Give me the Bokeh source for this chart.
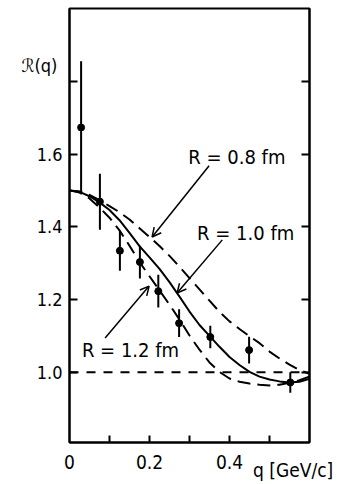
from bokeh.plotting import figure
from bokeh.models import Range1d, LinearAxis, FixedTicker, Span, Label, Arrow, OpenHead
from bokeh.embed import file_html
from bokeh.resources import INLINE

# ---- data ----
q_data = [0.029, 0.076, 0.126, 0.176, 0.222, 0.274, 0.352, 0.449, 0.552]
r_data = [1.673, 1.469, 1.334, 1.303, 1.223, 1.135, 1.097, 1.061, 0.972]
r_err = [0.182, 0.077, 0.055, 0.045, 0.045, 0.038, 0.031, 0.037, 0.028]

q_curve = [0.0, 0.025, 0.05, 0.075, 0.1, 0.125, 0.15, 0.175, 0.2, 0.225, 0.25, 0.275, 0.3,
           0.325, 0.35, 0.375, 0.4, 0.425, 0.45, 0.475, 0.5, 0.525, 0.55, 0.575, 0.6]
r_08 = [1.500, 1.497, 1.488, 1.473, 1.457, 1.440, 1.420, 1.396, 1.372, 1.347, 1.320, 1.290, 1.259,
        1.228, 1.197, 1.166, 1.140, 1.119, 1.099, 1.080, 1.057, 1.038, 1.021, 1.006, 0.996]
r_10 = [1.500, 1.496, 1.484, 1.467, 1.446, 1.418, 1.383, 1.347, 1.316, 1.284, 1.248, 1.208, 1.167,
        1.130, 1.100, 1.070, 1.042, 1.020, 1.001, 0.988, 0.980, 0.975, 0.972, 0.974, 0.982]
r_12 = [1.500, 1.494, 1.478, 1.453, 1.425, 1.390, 1.348, 1.303, 1.264, 1.225, 1.186, 1.145, 1.101,
        1.062, 1.027, 1.001, 0.983, 0.974, 0.969, 0.966, 0.964, 0.966, 0.971, 0.978, 0.988]

x_label_ticks = [0.0, 0.2, 0.4]
x_tick_labels = ["0", "0.2", "0.4"]
x_tick_marks = [0.1, 0.2, 0.3, 0.4, 0.5]
y_label_ticks = [1.0, 1.2, 1.4, 1.6]
y_tick_labels = ["1.0", "1.2", "1.4", "1.6"]
y_tick_marks = [1.0, 1.2, 1.4, 1.6, 1.8]
x_title = "q [GeV/c]"
y_title = "ℛ(q)"
curve_labels = ["R = 0.8 fm", "R = 1.0 fm", "R = 1.2 fm"]

FONT = "DejaVu Sans Condensed"

p = figure(width=337, height=484, output_backend="svg", toolbar_location=None,
           x_range=Range1d(0, 0.6), y_range=Range1d(0.807, 2.0),
           min_border_left=69, min_border_right=28, min_border_top=8, min_border_bottom=42)
p.grid.visible = False
p.outline_line_color = "black"
p.outline_line_width = 2
p.background_fill_color = "white"
p.border_fill_color = "white"

# bottom axis: tick marks as minor ticks, labels (incl. the axis title) as major ticks
x_title_pos = 0.559
xa = p.xaxis[0]
xa.ticker = FixedTicker(ticks=x_label_ticks + [x_title_pos], minor_ticks=x_tick_marks)
ov = {t: l for t, l in zip(x_label_ticks, x_tick_labels)}
ov[x_title_pos] = "\n" + x_title
xa.major_label_overrides = ov
xa.major_tick_in = 0
xa.major_tick_out = 0
xa.minor_tick_in = 7
xa.minor_tick_out = 0
xa.axis_line_width = 2
xa.minor_tick_line_width = 2
xa.major_label_standoff = 8
xa.major_label_text_font = FONT
xa.major_label_text_font_size = "19px"
xa.major_label_text_line_height = 0.4
xa.major_label_text_color = "black"

# left axis
y_title_pos = 1.844
ya = p.yaxis[0]
ya.ticker = FixedTicker(ticks=y_label_ticks + [y_title_pos], minor_ticks=y_tick_marks)
ov = {t: l for t, l in zip(y_label_ticks, y_tick_labels)}
ov[y_title_pos] = y_title + "\u00a0"
ya.major_label_overrides = ov
ya.major_tick_in = 0
ya.major_tick_out = 0
ya.minor_tick_in = 8
ya.minor_tick_out = 0
ya.axis_line_width = 2
ya.minor_tick_line_width = 2
ya.major_label_standoff = 7
ya.major_label_text_font = FONT
ya.major_label_text_font_size = "18px"
ya.major_label_text_color = "black"

ra = LinearAxis(ticker=FixedTicker(ticks=y_tick_marks, minor_ticks=[]))
ra.major_tick_in = 8
ra.major_tick_out = 0
ra.axis_line_width = 2
ra.major_tick_line_width = 2
ra.major_label_text_color = None
p.add_layout(ra, "right")

# reference line at 1.0
p.add_layout(Span(location=1.0, dimension="width", line_color="black", line_width=2,
                  line_dash="9 8"))

# model curves
p.line(q_curve, r_08, line_color="black", line_width=2, line_dash="13 7")
p.line(q_curve, r_10, line_color="black", line_width=2)
p.line(q_curve, r_12, line_color="black", line_width=2, line_dash="13 7")

# data with error bars
lo = [r - e for r, e in zip(r_data, r_err)]
hi = [r + e for r, e in zip(r_data, r_err)]
p.segment(x0=q_data, y0=lo, x1=q_data, y1=hi, line_color="black", line_width=2)
p.scatter(q_data, r_data, size=7, color="black")

# curve labels and arrows
lab_pos = [(0.297, 1.593), (0.319, 1.383), (0.031, 1.061)]
arrows = [((0.349, 1.568), (0.2065, 1.372)),
          ((0.382, 1.364), (0.269, 1.218)),
          ((0.089, 1.094), (0.199, 1.237))]
for txt, (lx, ly) in zip(curve_labels, lab_pos):
    p.add_layout(Label(x=lx, y=ly, text=txt, text_font=FONT, text_font_size="20px",
                       text_baseline="middle", text_align="left", text_color="black"))
for (s, e) in arrows:
    p.add_layout(Arrow(x_start=s[0], y_start=s[1], x_end=e[0], y_end=e[1], line_width=1.5,
                       line_color="black",
                       end=OpenHead(size=9, line_width=1.5, line_color="black")))

open("out.html", "w").write(file_html(p, INLINE))
